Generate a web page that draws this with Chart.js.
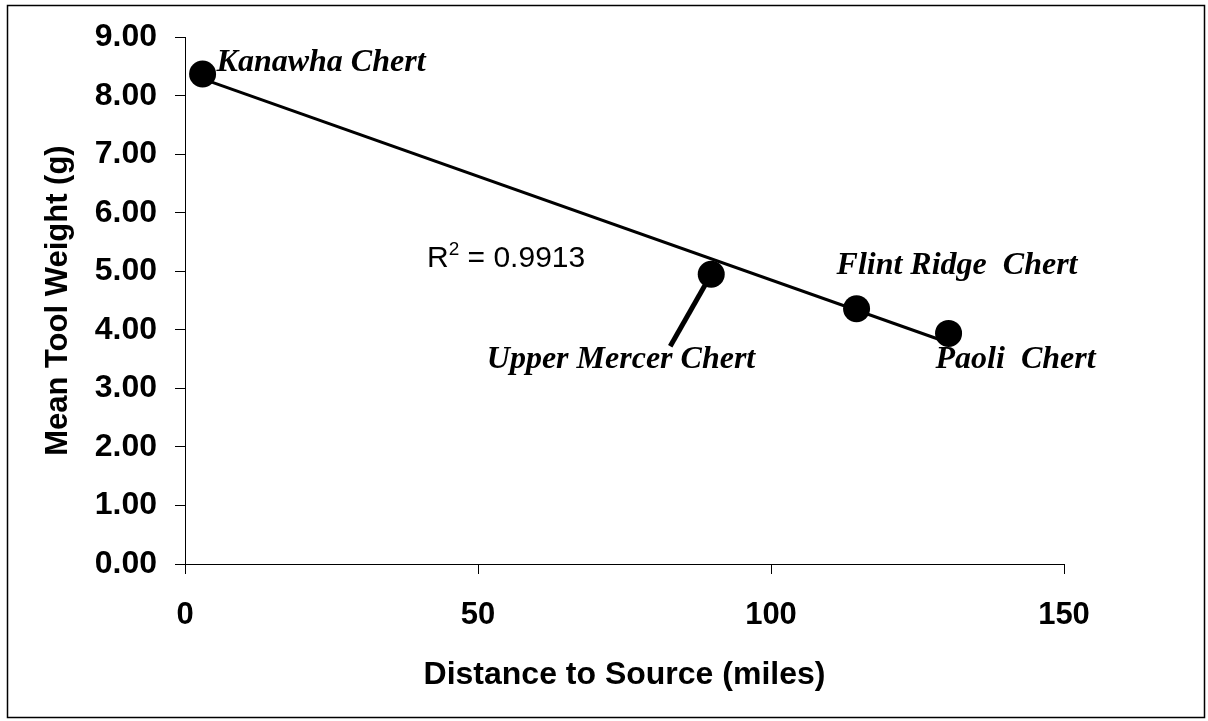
<!DOCTYPE html>
<html>
<head>
<meta charset="utf-8">
<script src="https://cdn.jsdelivr.net/npm/chart.js@4/dist/chart.umd.min.js"></script>
<style>
  html, body { margin: 0; padding: 0; background: #fff; }
  #wrap { width: 1208px; height: 721px; }
</style>
</head>
<body>
<div id="wrap"><canvas id="diagram"></canvas></div>
<script>
// data
const sourceNames = ["Kanawha Chert", "Upper Mercer Chert", "Flint Ridge  Chert", "Paoli  Chert"];
const distances = [3, 89.8, 114.6, 130.3];
const weights = [8.37, 4.95, 4.36, 3.94];
const xTicks = [0, 50, 100, 150];
const yTicks = [0, 1, 2, 3, 4, 5, 6, 7, 8, 9];
const rSquared = "0.9913";

// label offsets from each point (px) : [dx, dy, align]
const labelPos = [
  [14, -3, "left"],
  [44, 94, "right"],
  [-20, -35, "left"],
  [-13, 35, "left"],
];

// linear trendline from the points
const n = distances.length;
const mx = distances.reduce((a, b) => a + b, 0) / n;
const my = weights.reduce((a, b) => a + b, 0) / n;
let sxy = 0, sxx = 0;
for (let i = 0; i < n; i++) {
  sxy += (distances[i] - mx) * (weights[i] - my);
  sxx += (distances[i] - mx) ** 2;
}
const slope = sxy / sxx;
const icpt = my - slope * mx;
const xFirst = Math.min(...distances), xLast = Math.max(...distances);
const trend = [
  { x: xFirst, y: icpt + slope * xFirst },
  { x: xLast, y: icpt + slope * xLast },
];

const points = distances.map((d, i) => ({ x: d, y: weights[i] }));

// frame + labels + leader line
const extras = {
  id: "extras",
  beforeDraw(chart) {
    const ctx = chart.ctx;
    ctx.save();
    ctx.fillStyle = "#fff";
    ctx.fillRect(0, 0, chart.width, chart.height);
    ctx.strokeStyle = "#000";
    ctx.lineWidth = 1.5;
    ctx.strokeRect(7.5, 5.5, 1197, 712);
    ctx.restore();
  },
  beforeDatasetsDraw(chart) {
    const ctx = chart.ctx;
    const xs = chart.scales.x, ys = chart.scales.y;
    // leader for Upper Mercer
    const px = xs.getPixelForValue(distances[1]);
    const py = ys.getPixelForValue(weights[1]);
    ctx.save();
    ctx.strokeStyle = "#000";
    ctx.lineWidth = 5;
    ctx.beginPath();
    ctx.moveTo(px - 41, py + 72);
    ctx.lineTo(px, py);
    ctx.stroke();
    ctx.restore();
  },
  afterDatasetsDraw(chart) {
    const ctx = chart.ctx;
    const xs = chart.scales.x, ys = chart.scales.y;
    ctx.save();
    ctx.fillStyle = "#000";
    ctx.textBaseline = "alphabetic";
    ctx.font = "italic bold 32px 'Liberation Serif', 'Times New Roman', serif";
    sourceNames.forEach((name, i) => {
      const px = xs.getPixelForValue(distances[i]);
      const py = ys.getPixelForValue(weights[i]);
      ctx.textAlign = labelPos[i][2];
      ctx.fillText(name, px + labelPos[i][0], py + labelPos[i][1]);
    });
    // R squared
    ctx.textAlign = "left";
    ctx.font = "30px 'Liberation Sans', Arial, sans-serif";
    let x = 427, y = 267;
    ctx.fillText("R", x, y);
    x += ctx.measureText("R").width;
    ctx.font = "19px 'Liberation Sans', Arial, sans-serif";
    ctx.fillText("2", x, y - 12);
    x += ctx.measureText("2").width;
    ctx.font = "30px 'Liberation Sans', Arial, sans-serif";
    ctx.fillText(" = " + rSquared, x, y);
    ctx.restore();
  },
};

const config = {
  type: "scatter",
  data: {
    datasets: [
      {
        label: "sources",
        data: points,
        backgroundColor: "#000",
        borderColor: "#000",
        pointRadius: 13.5,
        pointHoverRadius: 13.5,
        borderWidth: 0,
      },
      {
        label: "trend",
        type: "line",
        data: trend,
        showLine: true,
        borderColor: "#000",
        borderWidth: 3,
        pointRadius: 0,
        fill: false,
      },
    ],
  },
  options: {
    responsive: true,
    maintainAspectRatio: false,
    animation: false,
    events: [],
    layout: { padding: { top: 35, right: 144, left: 0, bottom: 0 } },
    plugins: {
      legend: { display: false },
      tooltip: { enabled: false },
    },
    scales: {
      x: {
        type: "linear",
        min: 0,
        max: 150,
        afterFit: (s) => { s.height = 157; },
        afterBuildTicks: (s) => { s.ticks = xTicks.map((v) => ({ value: v })); },
        ticks: {
          color: "#000",
          padding: 23,
          font: { family: "'Liberation Sans', Arial, sans-serif", size: 31, weight: "bold" },
        },
        grid: { drawOnChartArea: false, drawTicks: true, tickLength: 10, color: "#000" },
        border: { display: true, color: "#000", width: 1 },
        title: {
          display: true,
          text: "Distance to Source (miles)",
          color: "#000",
          padding: { top: 0, bottom: 27 },
          font: { family: "'Liberation Sans', Arial, sans-serif", size: 32, weight: "bold" },
        },
      },
      y: {
        type: "linear",
        min: 0,
        max: 9,
        afterFit: (s) => { s.width = 185; },
        afterBuildTicks: (s) => { s.ticks = yTicks.map((v) => ({ value: v })); },
        ticks: {
          color: "#000",
          padding: 18,
          callback: (v) => Number(v).toFixed(2),
          font: { family: "'Liberation Sans', Arial, sans-serif", size: 32, weight: "bold" },
        },
        grid: { drawOnChartArea: false, drawTicks: true, tickLength: 10, color: "#000" },
        border: { display: true, color: "#000", width: 1 },
        title: {
          display: true,
          text: "Mean Tool Weight (g)",
          color: "#000",
          padding: { top: 40, bottom: 0 },
          font: { family: "'Liberation Sans', Arial, sans-serif", size: 31, weight: "bold" },
        },
      },
    },
  },
  plugins: [extras],
};

const canvas = document.getElementById("diagram");
const chart = new Chart(canvas, config);
</script>
</body>
</html>
